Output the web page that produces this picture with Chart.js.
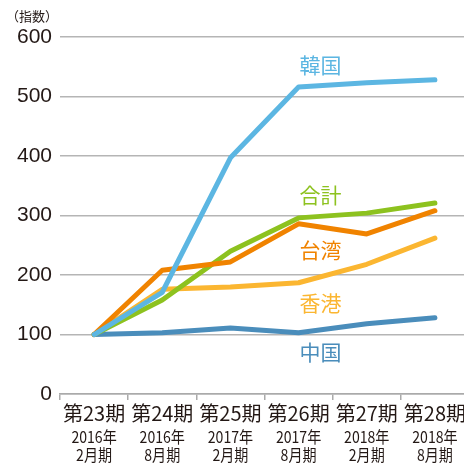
<!DOCTYPE html>
<html>
<head>
<meta charset="utf-8">
<script src="https://cdn.jsdelivr.net/npm/chart.js@4/dist/chart.umd.min.js"></script>
<style>
  html, body { margin: 0; padding: 0; background: #fff; overflow: hidden; }
  #wrap { position: relative; width: 472px; height: 463px; }
</style>
</head>
<body>
<div id="wrap"><canvas id="chart"></canvas></div>
<script>
// 期ごとの指数（第23期 = 100）
var periods = ['第23期', '第24期', '第25期', '第26期', '第27期', '第28期'];
var years = ['2016年', '2016年', '2017年', '2017年', '2018年', '2018年'];
var months = ['2月期', '8月期', '2月期', '8月期', '2月期', '8月期'];
var yTicks = [0, 100, 200, 300, 400, 500, 600];

var korea = [100, 171, 397, 516, 523, 528];
var total = [100, 158, 240, 296, 304, 321];
var taiwan = [100, 208, 222, 286, 269, 308];
var hongkong = [100, 176, 180, 187, 218, 262];
var china = [100, 103, 111, 103, 118, 128];

var seriesNames = ['韓国', '合計', '台湾', '香港', '中国'];

var colors = ['#5cb6e2', '#8dc21f', '#f08300', '#fbb631', '#4a8dbb'];
// label anchors: value on the y axis where each name sits, placed at the 4th point
var labelAt = [553, 334, 242, 153, 71];

var ctx = document.getElementById('chart').getContext('2d');
ctx.canvas.width = 472;
ctx.canvas.height = 463;

var seriesLabels = {
    id: 'seriesLabels',
    afterDatasetsDraw: function (chart) {
        var c = chart.ctx;
        var xs = chart.scales.x, ys = chart.scales.y;
        c.save();
        c.font = '21px "Noto Sans CJK JP"';
        c.textAlign = 'left';
        c.textBaseline = 'middle';
        seriesNames.forEach(function (name, i) {
            c.fillStyle = colors[i];
            c.fillText(name, xs.getPixelForValue(3) + 1, ys.getPixelForValue(labelAt[i]));
        });
        c.restore();
    }
};

var xLabels = {
    id: 'xLabels',
    afterDraw: function (chart) {
        var c = chart.ctx;
        var xs = chart.scales.x;
        c.save();
        c.fillStyle = '#231815';
        c.textAlign = 'center';
        c.textBaseline = 'middle';
        periods.forEach(function (p, i) {
            var x = xs.getPixelForValue(i);
            c.font = '20px "Noto Sans CJK JP"';
            c.fillText(p, x, 413);
            c.save();
            c.translate(x, 0);
            c.scale(0.88, 1);
            c.font = '16px "Noto Sans CJK JP"';
            c.fillText(years[i], 0, 437);
            c.fillText(months[i], 0, 455);
            c.restore();
        });
        c.font = '13px "Noto Sans CJK JP"';
        c.textAlign = 'left';
        c.fillText('（指数）', 6, 16);
        c.restore();
    }
};

function line(data, i) {
    return {
        data: data,
        borderColor: colors[i],
        backgroundColor: colors[i],
        borderWidth: 5,
        pointRadius: 0,
        borderJoinStyle: 'round',
        borderCapStyle: 'round',
        tension: 0
    };
}

var chart = new Chart(ctx, {
    type: 'line',
    data: {
        labels: periods,
        datasets: [
            line(korea, 0),
            line(taiwan, 2),
            line(total, 1),
            line(hongkong, 3),
            line(china, 4)
        ]
    },
    options: {
        responsive: false,
        animation: false,
        layout: { padding: { left: 0, top: 37, right: 3, bottom: 0 } },
        plugins: { legend: { display: false }, tooltip: { enabled: false } },
        scales: {
            x: {
                offset: true,
                grid: {
                    offset: true,
                    drawOnChartArea: false,
                    color: '#aaaaaa',
                    lineWidth: 1.5,
                    tickLength: 6
                },
                border: { color: '#aaaaaa', width: 1.5 },
                ticks: { display: false },
                afterFit: function (s) { s.height = 69; }
            },
            y: {
                min: 0,
                max: 600,
                afterBuildTicks: function (s) {
                    s.ticks = yTicks.map(function (v) { return { value: v }; });
                },
                grid: { color: '#b5b5b5', lineWidth: 1.5, drawTicks: false },
                border: { display: false },
                ticks: {
                    color: '#231815',
                    padding: 8,
                    font: { family: '"Liberation Sans", Arial', size: 21 }
                },
                afterFit: function (s) { s.width = 60; }
            }
        }
    },
    plugins: [seriesLabels, xLabels]
});
</script>
</body>
</html>
